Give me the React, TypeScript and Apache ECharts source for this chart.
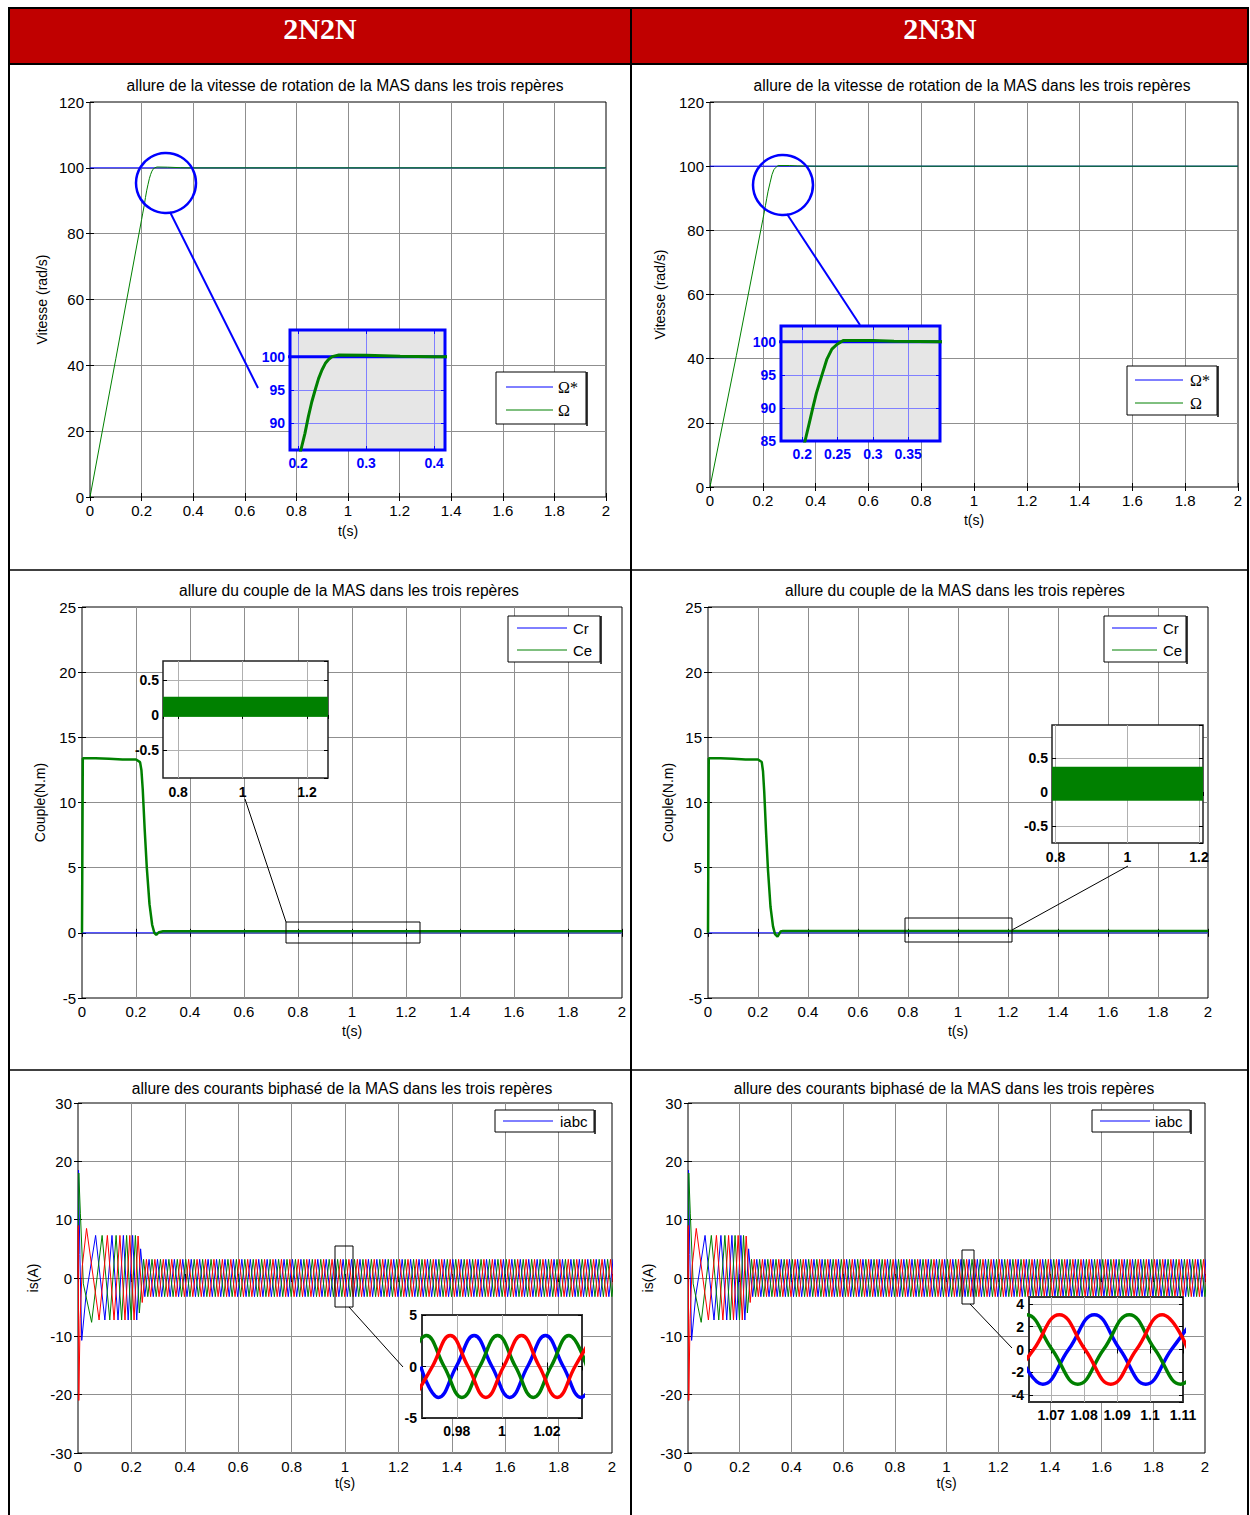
import React, { useEffect, useRef } from "react";
import * as echarts from "echarts";

// ---------------- text ----------------
const columnHeaders = ["2N2N", "2N3N"];
const speedTitle = "allure de la vitesse de rotation de la MAS dans les trois repères";
const torqueTitle = "allure du couple de la MAS dans les trois repères";
const currentTitle = "allure des courants biphasé de la MAS dans les trois repères";
const speedYName = "Vitesse (rad/s)";
const torqueYName = "Couple(N.m)";
const currentYName = "is(A)";
const timeName = "t(s)";

// ---------------- speed (rad/s) ----------------
const speedRef: number[][] = [[0, 100], [2, 100]];
const speed2N2N: number[][] = [
  [0, 0], [0.1, 42], [0.2, 84.3], [0.204, 86], [0.21, 88.5], [0.215, 91], [0.22, 93.2],
  [0.225, 95], [0.23, 96.7], [0.235, 98], [0.24, 99], [0.245, 99.6], [0.25, 100],
  [0.26, 100.25], [0.3, 100.2], [0.35, 100.05], [0.4, 100], [2, 100],
];
const speed2N3N: number[][] = [
  [0, 0], [0.1, 41], [0.2, 83.3], [0.204, 85], [0.21, 87.7], [0.215, 90], [0.22, 92.2],
  [0.228, 95], [0.235, 97.4], [0.242, 98.9], [0.249, 99.6], [0.258, 100.2], [0.3, 100.2],
  [0.33, 100.1], [0.4, 100], [2, 100],
];

// ---------------- torque (N.m) ----------------
const torqueLoad: number[][] = [[0, 0], [2, 0]];
const torque2N2N: number[][] = [
  [0, 0], [0.003, 13.4], [0.05, 13.4], [0.1, 13.35], [0.15, 13.3], [0.2, 13.3], [0.215, 13.1],
  [0.22, 12.5], [0.225, 11], [0.232, 8], [0.24, 5], [0.25, 2.2], [0.26, 0.6], [0.268, 0],
  [0.275, -0.15], [0.285, 0.05], [0.3, 0.12], [2, 0.12],
];
const torque2N3N: number[][] = [
  [0, 0], [0.003, 13.4], [0.05, 13.4], [0.1, 13.35], [0.15, 13.3], [0.2, 13.3], [0.215, 13.1],
  [0.22, 12.4], [0.225, 10.8], [0.232, 7.8], [0.24, 4.8], [0.25, 2], [0.26, 0.5], [0.268, -0.1],
  [0.278, -0.3], [0.29, 0.1], [0.3, 0.15], [2, 0.15],
];
// ripple band of Ce in steady state: [t start, t end, low, high]
const torqueBand2N2N: number[] = [0.3, 2, -0.02, 0.26];
const torqueBand2N3N: number[] = [0.3, 2, -0.12, 0.37];

// ---------------- currents (A) ----------------
// start-up extrema [t, i]
const iaStart: number[][] = [
  [0, 0], [0.001, 9], [0.003, -21], [0.008, -7], [0.016, 2], [0.032, 8.5], [0.079, -7.2],
  [0.11, 7.3], [0.135, -7.2], [0.157, 7.3], [0.176, -7.2], [0.194, 7.3], [0.21, -7.2],
  [0.225, 7.2], [0.2405, -4.2],
];
const ibStart: number[][] = [
  [0, 0], [0.002, 18.5], [0.007, 4], [0.014, -10.7], [0.03, -3], [0.066, 7.3], [0.1006, -7.2],
  [0.1273, 7.3], [0.1499, -7.2], [0.1699, 7.3], [0.1879, -7.2], [0.2045, 7.3], [0.22, -7.2],
  [0.2345, 5],
];
const icStart: number[][] = [
  [0, 0], [0.003, 18], [0.009, 11], [0.02, -1], [0.051, -7.6], [0.0903, 7.3], [0.119, -7.2],
  [0.1427, 7.3], [0.1634, -7.2], [0.1821, 7.3], [0.1991, -7.2], [0.2149, 7.3], [0.2298, -6],
];
// steady-state peak value and half period
const steadyAmplitude = 3.2;
const steadyHalfPeriod = 0.0158;
const simEnd = 2;

// zoomed windows: extrema and zero crossings [t, i]
const iaZoom2N2N: number[][] = [
  [0.9613, -3], [0.9692, 0], [0.9771, 3], [0.985, 0], [0.9929, -3], [1.0008, 0], [1.0087, 3],
  [1.0166, 0], [1.0245, -3], [1.0324, 0], [1.0403, 3],
];
const ibZoom2N2N: number[][] = [
  [0.964, 0], [0.9719, -3], [0.9798, 0], [0.9877, 3], [0.9956, 0], [1.0035, -3], [1.0114, 0],
  [1.0193, 3], [1.0272, 0], [1.0351, -3], [1.043, 0],
];
const icZoom2N2N: number[][] = [
  [0.9586, 0], [0.9665, 3], [0.9744, 0], [0.9823, -3], [0.9902, 0], [0.9981, 3], [1.006, 0],
  [1.0139, -3], [1.0218, 0], [1.0297, 3], [1.0376, 0],
];
const iaZoom2N3N: number[][] = [
  [1.0569, -3.05], [1.0647, 0], [1.0725, 3.05], [1.0803, 0], [1.0881, -3.05], [1.0959, 0],
  [1.1037, 3.05], [1.1115, 0],
];
const ibZoom2N3N: number[][] = [
  [1.0597, 0], [1.0675, -3.05], [1.0753, 0], [1.0831, 3.05], [1.0909, 0], [1.0987, -3.05],
  [1.1065, 0], [1.1143, 3.05],
];
const icZoom2N3N: number[][] = [
  [1.0547, 0], [1.0625, 3.05], [1.0703, 0], [1.0781, -3.05], [1.0859, 0], [1.0937, 3.05],
  [1.1015, 0], [1.1093, -3.05], [1.1171, 0],
];

// ---------------- styles ----------------
const SANS = "'Liberation Sans', Arial, sans-serif";
const SERIF = "'Liberation Serif', 'Times New Roman', serif";
const BLUE = "#0000ff";
const GREEN = "#008000";
const RED = "#ff0000";

function withSteadyState(start: number[][]): number[][] {
  const out = start.map((p) => [p[0], p[1]]);
  let t = out[out.length - 1][0];
  let sign = out[out.length - 1][1] > 0 ? -1 : 1;
  while (t < simEnd + steadyHalfPeriod) {
    t = +(t + steadyHalfPeriod).toFixed(5);
    out.push([t, sign * steadyAmplitude]);
    sign = -sign;
  }
  return out;
}

type AxisCfg = { min: number; max: number; interval?: number; splitNumber?: number; showMin?: boolean; showMax?: boolean };
type PanelCfg = {
  box: [number, number, number, number];
  x: AxisCfg; y: AxisCfg;
  z: number; bg: string; frame: string; frameWidth: number;
  gridColor: string; tickColor: string; tickLen: number;
  labelColor: string; fontSize: number; bold: boolean;
  xMargin: number; yMargin: number;
  xName?: string; xNameGap?: number; yName?: string; yNameGap?: number;
};

function buildOption() {
  const grid: any[] = [];
  const xAxis: any[] = [];
  const yAxis: any[] = [];
  const series: any[] = [];
  const graphic: any[] = [];

  const axisScale = (a: AxisCfg) => {
    const o: any = { min: a.min, max: a.max };
    if (a.interval != null) o.interval = a.interval;
    if (a.splitNumber != null) o.splitNumber = a.splitNumber;
    return o;
  };

  function panel(c: PanelCfg) {
    const gi = grid.length;
    const [x0, y0, x1, y1] = c.box;
    grid.push({
      left: x0, top: y0, width: x1 - x0, height: y1 - y0, show: true,
      backgroundColor: c.bg, borderColor: c.frame, borderWidth: c.frameWidth, z: c.z,
    });
    const tick = { show: true, inside: true, length: c.tickLen, lineStyle: { color: c.tickColor, width: 1 } };
    const split = { show: true, showMinLine: false, showMaxLine: false, lineStyle: { color: c.gridColor, width: 1 } };
    const label = (a: AxisCfg, margin: number) => ({
      show: true, color: c.labelColor, fontFamily: SANS, fontSize: c.fontSize,
      fontWeight: c.bold ? "bold" : "normal", margin,
      showMinLabel: a.showMin !== false, showMaxLabel: a.showMax !== false,
    });
    const nameStyle = { color: "#000", fontFamily: SANS, fontSize: 14 };
    const xi = xAxis.length;
    xAxis.push({
      type: "value", gridIndex: gi, position: "bottom", ...axisScale(c.x),
      axisLine: { show: false }, axisTick: tick, axisLabel: label(c.x, c.xMargin), splitLine: split,
      z: c.z + 1,
      ...(c.xName ? { name: c.xName, nameLocation: "middle", nameGap: c.xNameGap, nameTextStyle: nameStyle } : {}),
    });
    xAxis.push({
      type: "value", gridIndex: gi, position: "top", ...axisScale(c.x),
      axisLine: { show: false }, axisTick: tick, axisLabel: { show: false }, splitLine: { show: false }, z: c.z + 1,
    });
    const yi = yAxis.length;
    yAxis.push({
      type: "value", gridIndex: gi, position: "left", ...axisScale(c.y),
      axisLine: { show: false }, axisTick: tick, axisLabel: label(c.y, c.yMargin), splitLine: split,
      z: c.z + 1,
      ...(c.yName ? { name: c.yName, nameLocation: "middle", nameRotate: 90, nameGap: c.yNameGap, nameTextStyle: nameStyle } : {}),
    });
    yAxis.push({
      type: "value", gridIndex: gi, position: "right", ...axisScale(c.y),
      axisLine: { show: false }, axisTick: tick, axisLabel: { show: false }, splitLine: { show: false }, z: c.z + 1,
    });
    return { xi, yi, z: c.z + 2 };
  }

  const line = (p: { xi: number; yi: number; z: number }, name: string, data: number[][], color: string, width: number, extra: any = {}) => {
    series.push({
      type: "line", name, data, xAxisIndex: p.xi, yAxisIndex: p.yi, z: p.z,
      symbol: "none", showSymbol: false, silent: true, clip: true,
      lineStyle: { color, width }, itemStyle: { color }, ...extra,
    });
  };

  const band = (p: { xi: number; yi: number; z: number }, b: number[], xr: AxisCfg) => {
    const t0 = Math.max(b[0], xr.min);
    const t1 = Math.min(b[1], xr.max);
    series.push({
      type: "line", name: "Ce", data: [[t0, b[2]], [t1, b[2]]], xAxisIndex: p.xi, yAxisIndex: p.yi, z: p.z,
      symbol: "none", silent: true, lineStyle: { color: GREEN, width: 1 },
      markArea: {
        silent: true, z: p.z + 1, itemStyle: { color: GREEN, opacity: 1 },
        data: [[{ coord: [t0, b[2]] }, { coord: [t1, b[3]] }]],
      },
    });
  };

  const mainStyle = {
    z: 0, bg: "transparent", frame: "#000", frameWidth: 1, gridColor: "#8f8f8f", tickColor: "#000",
    tickLen: 4, labelColor: "#000", fontSize: 15, bold: false, xMargin: 6, yMargin: 6,
  };
  const timeAxis: AxisCfg = { min: 0, max: 2, interval: 0.2 };

  // ---------- speed ----------
  const p1 = panel({ ...mainStyle, box: [90, 102, 606, 497], x: timeAxis, y: { min: 0, max: 120, interval: 20 },
    xName: timeName, xNameGap: 27, yName: speedYName, yNameGap: 41 });
  line(p1, "Ω*", speedRef, BLUE, 1);
  line(p1, "Ω", speed2N2N, GREEN, 1);
  const p2 = panel({ ...mainStyle, box: [710, 102, 1238, 487], x: timeAxis, y: { min: 0, max: 120, interval: 20 },
    xName: timeName, xNameGap: 26, yName: speedYName, yNameGap: 43 });
  line(p2, "Ω*", speedRef, BLUE, 1);
  line(p2, "Ω", speed2N3N, GREEN, 1);

  const speedInset = {
    z: 10, bg: "#e6e6e6", frame: BLUE, frameWidth: 3, gridColor: "#8080ff", tickColor: BLUE, tickLen: 4,
    labelColor: BLUE, fontSize: 14, bold: true, xMargin: 6, yMargin: 5,
  };
  const i1x: AxisCfg = { min: 0.188, max: 0.416, splitNumber: 2, showMin: false, showMax: false };
  const i1 = panel({ ...speedInset, box: [290, 330, 445, 450], x: i1x,
    y: { min: 86, max: 104, splitNumber: 4, showMin: false, showMax: false } });
  line(i1, "Ω*", speedRef, BLUE, 3);
  line(i1, "Ω", speed2N2N, GREEN, 3);
  const i2x: AxisCfg = { min: 0.17, max: 0.395, splitNumber: 4, showMin: false, showMax: false };
  const i2 = panel({ ...speedInset, box: [781, 326, 940, 441], x: i2x,
    y: { min: 85, max: 102.4, splitNumber: 4, showMin: true, showMax: false } });
  line(i2, "Ω*", speedRef, BLUE, 3);
  line(i2, "Ω", speed2N3N, GREEN, 3);

  // ---------- torque ----------
  const p3 = panel({ ...mainStyle, box: [82, 607, 622, 998], x: timeAxis, y: { min: -5, max: 25, interval: 5 },
    xName: timeName, xNameGap: 26, yName: torqueYName, yNameGap: 35 });
  line(p3, "Cr", torqueLoad, BLUE, 1);
  line(p3, "Ce", torque2N2N, GREEN, 2.5);
  const p4 = panel({ ...mainStyle, box: [708, 607, 1208, 998], x: timeAxis, y: { min: -5, max: 25, interval: 5 },
    xName: timeName, xNameGap: 26, yName: torqueYName, yNameGap: 33 });
  line(p4, "Cr", torqueLoad, BLUE, 1);
  line(p4, "Ce", torque2N3N, GREEN, 2.5);

  const blackInset = {
    z: 10, bg: "#ffffff", frame: "#222", frameWidth: 1.5, gridColor: "#b0b0b0", tickColor: "#000", tickLen: 4,
    labelColor: "#000", fontSize: 14, bold: true, xMargin: 7, yMargin: 4,
  };
  const i3x: AxisCfg = { min: 0.753, max: 1.265, splitNumber: 3, showMin: false, showMax: false };
  const i3 = panel({ ...blackInset, box: [163, 661, 328, 778], x: i3x,
    y: { min: -0.9, max: 0.77, splitNumber: 3, showMin: false, showMax: false } });
  band(i3, torqueBand2N2N, i3x);
  const i4x: AxisCfg = { min: 0.79, max: 1.211, splitNumber: 2, showMin: false, showMax: false };
  const i4 = panel({ ...blackInset, box: [1052, 725, 1203, 843], x: i4x,
    y: { min: -0.75, max: 0.985, splitNumber: 3, showMin: false, showMax: false } });
  band(i4, torqueBand2N3N, i4x);

  // ---------- currents ----------
  const ia = withSteadyState(iaStart);
  const ib = withSteadyState(ibStart);
  const ic = withSteadyState(icStart);
  const p5 = panel({ ...mainStyle, box: [78, 1103, 612, 1453], x: timeAxis, y: { min: -30, max: 30, interval: 10 },
    xName: timeName, xNameGap: 23, yName: currentYName, yNameGap: 38 });
  line(p5, "ib", ib, BLUE, 1);
  line(p5, "ic", ic, GREEN, 1);
  line(p5, "ia", ia, RED, 1);
  const p6 = panel({ ...mainStyle, box: [688, 1103, 1205, 1453], x: timeAxis, y: { min: -30, max: 30, interval: 10 },
    xName: timeName, xNameGap: 23, yName: currentYName, yNameGap: 33 });
  line(p6, "ib", ib, BLUE, 1);
  line(p6, "ic", ic, GREEN, 1);
  line(p6, "ia", ia, RED, 1);

  const currInset = { ...blackInset, frame: "#333", frameWidth: 2, xMargin: 6, yMargin: 5 };
  const i5 = panel({ ...currInset, box: [422, 1315, 582, 1418],
    x: { min: 0.9646, max: 1.0355, splitNumber: 3, showMin: false, showMax: false },
    y: { min: -5, max: 5, interval: 5 } });
  line(i5, "ib", ibZoom2N2N, BLUE, 3.5, { smooth: 0.45 });
  line(i5, "ic", icZoom2N2N, GREEN, 3.5, { smooth: 0.45 });
  line(i5, "ia", iaZoom2N2N, RED, 3.5, { smooth: 0.45 });
  const i6 = panel({ ...currInset, box: [1029, 1297, 1183, 1402],
    x: { min: 1.0633, max: 1.11, splitNumber: 4, showMin: false, showMax: true },
    y: { min: -4.6, max: 4.6, splitNumber: 4, showMin: false, showMax: false } });
  line(i6, "ib", ibZoom2N3N, BLUE, 3.5, { smooth: 0.45 });
  line(i6, "ic", icZoom2N3N, GREEN, 3.5, { smooth: 0.45 });
  line(i6, "ia", iaZoom2N3N, RED, 3.5, { smooth: 0.45 });

  // ---------- table frame & header ----------
  graphic.push({ type: "rect", shape: { x: 8, y: 8, width: 1241, height: 56 }, style: { fill: "#c00000" }, z: 0, silent: true });
  [320, 940].forEach((cx, i) => {
    graphic.push({ type: "text", x: cx, y: 28, z: 40, silent: true,
      style: { text: columnHeaders[i], fill: "#ffffff", font: `bold 30px ${SERIF}`, align: "center", verticalAlign: "middle" } });
  });
  const tl = (x1: number, y1: number, x2: number, y2: number, w: number) =>
    graphic.push({ type: "line", shape: { x1, y1, x2, y2 }, style: { stroke: "#000", lineWidth: w }, z: 40, silent: true });
  tl(8, 8, 1249, 8, 2);
  tl(9, 8, 9, 1515, 2);
  tl(1248, 8, 1248, 1515, 2);
  tl(631, 8, 631, 1515, 2);
  tl(8, 64, 1249, 64, 2);
  tl(8, 570, 1249, 570, 1.5);
  tl(8, 1070, 1249, 1070, 1.5);

  // ---------- titles ----------
  const title = (text: string, cx: number, cy: number) =>
    graphic.push({ type: "text", x: cx, y: cy, z: 40, silent: true,
      style: { text, fill: "#000", font: `15.6px ${SANS}`, align: "center", verticalAlign: "middle" } });
  title(speedTitle, 345, 85);
  title(speedTitle, 972, 85);
  title(torqueTitle, 349, 590);
  title(torqueTitle, 955, 590);
  title(currentTitle, 342, 1088);
  title(currentTitle, 944, 1088);

  // ---------- legends ----------
  const legend = (box: number[], items: { label: string; color: string; y: number; serif?: boolean }[], lx0: number, lx1: number, tx: number) => {
    graphic.push({ type: "rect", shape: { x: box[0], y: box[1], width: box[2] - box[0], height: box[3] - box[1] },
      style: { fill: "#fff", stroke: "#000", lineWidth: 1 }, z: 30, silent: true });
    graphic.push({ type: "line", shape: { x1: box[2] + 1, y1: box[1], x2: box[2] + 1, y2: box[3] + 2 },
      style: { stroke: "#000", lineWidth: 1.5 }, z: 30, silent: true });
    items.forEach((it) => {
      graphic.push({ type: "line", shape: { x1: lx0, y1: it.y, x2: lx1, y2: it.y }, style: { stroke: it.color, lineWidth: 1 }, z: 31, silent: true });
      graphic.push({ type: "text", x: tx, y: it.y, z: 31, silent: true,
        style: { text: it.label, fill: "#000", font: it.serif ? `16px ${SERIF}` : `15px ${SANS}`, align: "left", verticalAlign: "middle" } });
    });
  };
  legend([496, 372, 586, 424], [{ label: "Ω*", color: BLUE, y: 387, serif: true }, { label: "Ω", color: GREEN, y: 410, serif: true }], 506, 553, 558);
  legend([1127, 366, 1217, 415], [{ label: "Ω*", color: BLUE, y: 380, serif: true }, { label: "Ω", color: GREEN, y: 403, serif: true }], 1135, 1183, 1190);
  legend([508, 616, 600, 662], [{ label: "Cr", color: BLUE, y: 628 }, { label: "Ce", color: GREEN, y: 650 }], 517, 567, 573);
  legend([1104, 616, 1186, 662], [{ label: "Cr", color: BLUE, y: 628 }, { label: "Ce", color: GREEN, y: 650 }], 1112, 1157, 1163);
  legend([495, 1110, 594, 1132], [{ label: "iabc", color: BLUE, y: 1121 }], 503, 553, 560);
  legend([1092, 1110, 1190, 1132], [{ label: "iabc", color: BLUE, y: 1121 }], 1100, 1150, 1155);

  // ---------- zoom annotations ----------
  const circ = (cx: number, cy: number, r: number) =>
    graphic.push({ type: "circle", shape: { cx, cy, r }, style: { fill: "none", stroke: BLUE, lineWidth: 2.5 }, z: 35, silent: true });
  const conn = (x1: number, y1: number, x2: number, y2: number, color: string, w: number) =>
    graphic.push({ type: "line", shape: { x1, y1, x2, y2 }, style: { stroke: color, lineWidth: w }, z: 35, silent: true });
  const frameRect = (x0: number, y0: number, x1: number, y1: number) =>
    graphic.push({ type: "rect", shape: { x: x0, y: y0, width: x1 - x0, height: y1 - y0 }, style: { fill: "none", stroke: "#000", lineWidth: 1 }, z: 35, silent: true });
  circ(166, 183, 30);
  conn(170, 212, 258, 388, BLUE, 2);
  circ(783, 185, 30);
  conn(787, 214, 860, 325, BLUE, 2);
  frameRect(286, 922, 420, 943);
  conn(245, 799, 286, 922, "#000", 1);
  frameRect(905, 918, 1012, 942);
  conn(1012, 930, 1128, 866, "#000", 1);
  frameRect(335, 1246, 353, 1307);
  conn(349, 1307, 403, 1367, "#000", 1);
  frameRect(962, 1250, 974, 1304);
  conn(970, 1304, 1012, 1348, "#000", 1);

  return {
    animation: false,
    backgroundColor: "#ffffff",
    grid, xAxis, yAxis, series, graphic,
  };
}

export default function App() {
  const ref = useRef<HTMLDivElement>(null);
  useEffect(() => {
    if (!ref.current) return;
    const chart = echarts.init(ref.current, undefined, { renderer: "svg" });
    chart.setOption(buildOption() as any);
    return () => chart.dispose();
  }, []);
  return (
    <div
      ref={ref}
      style={{ position: "absolute", left: 0, top: 0, width: 1250, height: 1515, background: "#fff" }}
    />
  );
}
